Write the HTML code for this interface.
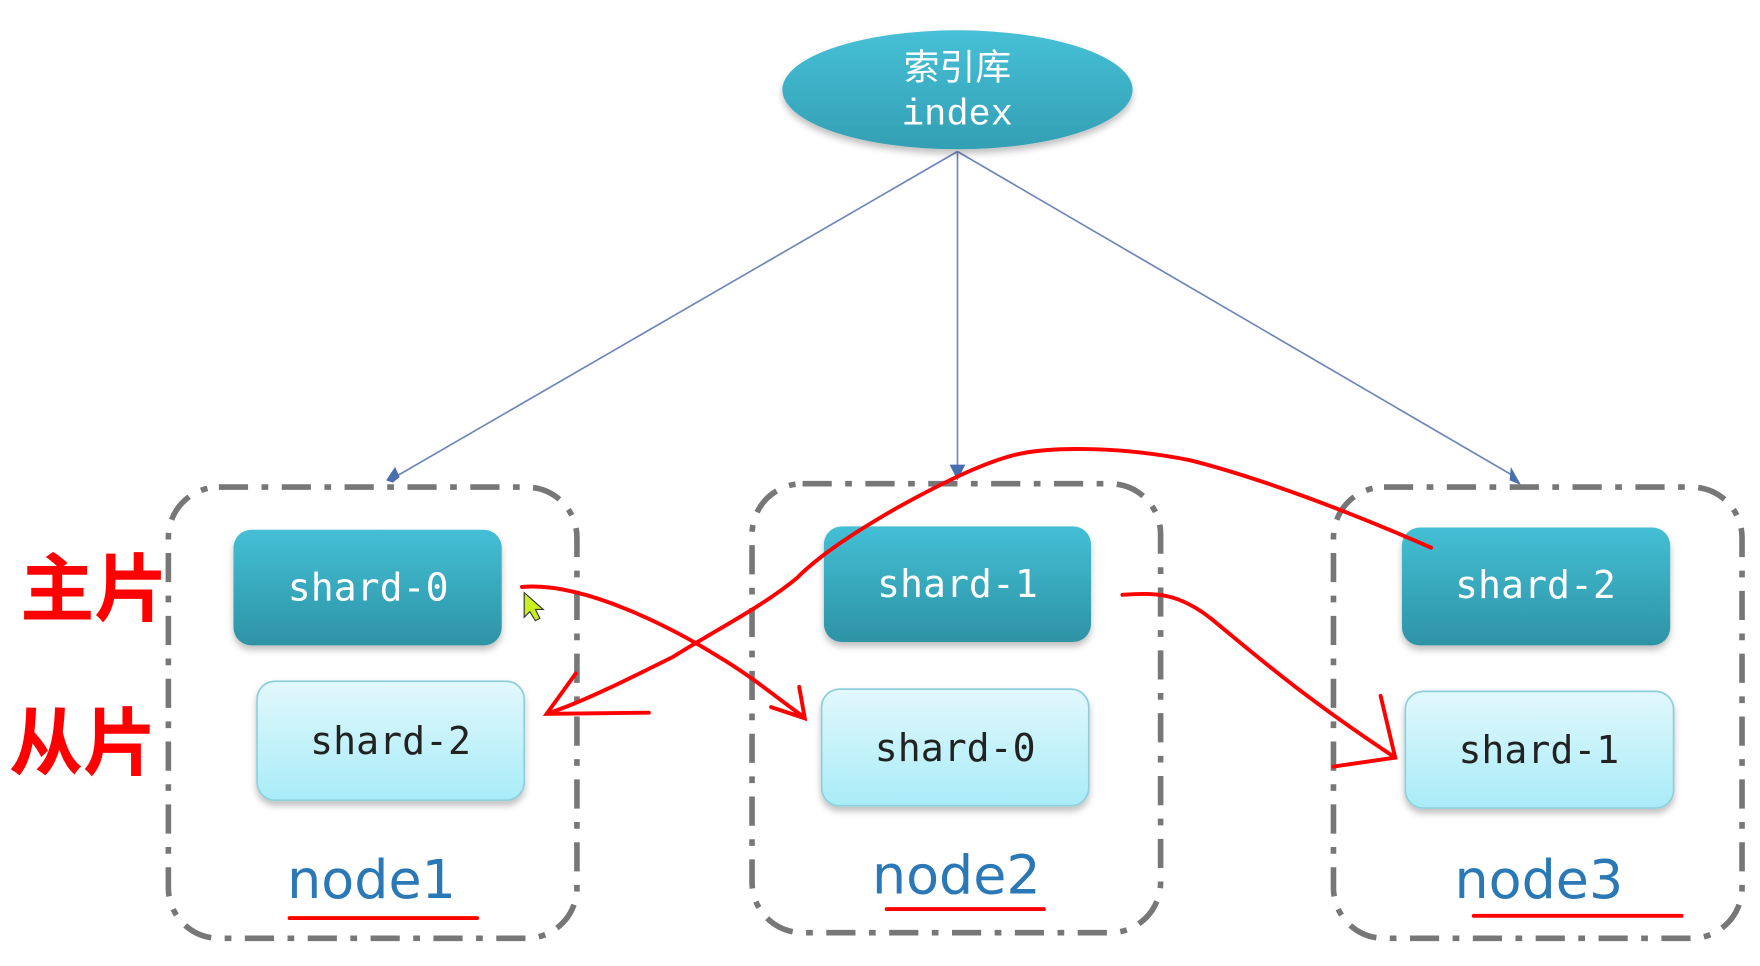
<!DOCTYPE html>
<html><head><meta charset="utf-8"><style>
html,body{margin:0;padding:0;background:#fff;}
svg{display:block;}
</style></head><body>
<svg width="1760" height="966" viewBox="0 0 1568 860.7" preserveAspectRatio="none" xmlns="http://www.w3.org/2000/svg">
<defs>
<linearGradient id="dk" x1="0" y1="0" x2="0" y2="1"><stop offset="0" stop-color="#44bfd5"/><stop offset="1" stop-color="#2d93a5"/></linearGradient>
<linearGradient id="lt" x1="0" y1="0" x2="0" y2="1"><stop offset="0" stop-color="#e2f8fc"/><stop offset="1" stop-color="#a8ecf8"/></linearGradient>
<linearGradient id="el" x1="0" y1="0" x2="0" y2="1"><stop offset="0" stop-color="#46c0d6"/><stop offset="1" stop-color="#339fb4"/></linearGradient>
<filter id="sh" x="-10%" y="-10%" width="120%" height="130%"><feDropShadow dx="0" dy="4" stdDeviation="3" flood-color="#000" flood-opacity="0.25"/></filter>
</defs>
<rect width="1568" height="861" fill="#fff"/>
<g stroke="#6f87b8" stroke-width="1.5" fill="none">
<line x1="853" y1="135" x2="352" y2="425"/>
<line x1="853" y1="135" x2="853" y2="420"/>
<line x1="853" y1="135" x2="1350" y2="425"/>
</g>
<g fill="#4a6fb0">
<polygon points="350,430 344,428 352,416 356,425"/>
<polygon points="853,428 846,414 860,414"/>
<polygon points="1355,432 1345,428 1346,416"/>
</g>
<ellipse cx="853" cy="80" rx="156" ry="53" fill="url(#el)" filter="url(#sh)"/>
<text x="853" y="71" text-anchor="middle" font-family="'Noto Sans CJK SC',sans-serif" font-size="32" fill="#fff">索引库</text>
<text x="853" y="111" text-anchor="middle" font-family="'Liberation Mono',monospace" font-size="33" fill="#fff">index</text>
<g fill="none" stroke="#777" stroke-width="5" stroke-dasharray="26,12,6,12">
<rect x="150" y="434" width="364" height="402" rx="45"/>
<rect x="670" y="431" width="364" height="400" rx="45"/>
<rect x="1188" y="434" width="364" height="402" rx="45"/>
</g>
<g filter="url(#sh)">
<rect x="208" y="472" width="239" height="103" rx="16" fill="url(#dk)"/>
<rect x="734" y="469" width="238" height="103" rx="16" fill="url(#dk)"/>
<rect x="1249" y="470" width="239" height="105" rx="16" fill="url(#dk)"/>
<rect x="229" y="607" width="238" height="106" rx="16" fill="url(#lt)" stroke="#8fcfdc" stroke-width="1.5"/>
<rect x="732" y="614" width="238" height="104" rx="16" fill="url(#lt)" stroke="#8fcfdc" stroke-width="1.5"/>
<rect x="1252" y="616" width="239" height="104" rx="16" fill="url(#lt)" stroke="#8fcfdc" stroke-width="1.5"/>
</g>
<g font-family="'DejaVu Sans Mono','Liberation Mono',monospace" font-size="34" text-anchor="middle">
<text x="328" y="535" fill="#fff">shard-0</text>
<text x="853" y="532" fill="#fff">shard-1</text>
<text x="1368" y="533" fill="#fff">shard-2</text>
<text x="348" y="672" fill="#222">shard-2</text>
<text x="851" y="678" fill="#222">shard-0</text>
<text x="1371" y="680" fill="#222">shard-1</text>
</g>
<g font-family="'DejaVu Sans','Liberation Sans',sans-serif" font-size="48" fill="#2a78b5" text-anchor="middle">
<text x="331" y="800">node1</text>
<text x="852" y="796">node2</text>
<text x="1371" y="800">node3</text>
</g>
<g stroke="#f00" stroke-width="3.5" fill="none" stroke-linecap="round">
<line x1="258" y1="818" x2="425" y2="818"/>
<line x1="790" y1="810" x2="930" y2="810"/>
<line x1="1313" y1="816" x2="1498" y2="816"/>
<path d="M465,523 C520,518 600,560 640,585 C670,603 690,620 715,638"/>
<path d="M712,612 L717,640 L687,630"/>
<path d="M1275,488 C1200,455 1120,425 1060,410 C1000,398 940,398 910,404 C880,410 840,430 800,452 C760,475 730,495 710,515 C680,540 640,560 600,585 C560,605 520,625 490,635"/>
<path d="M513,600 L487,636 L578,635"/>
<path d="M1000,530 C1030,528 1050,528 1080,552 C1120,585 1160,620 1243,675"/>
<path d="M1230,620 L1243,675 L1188,683"/>
</g>
<g font-family="'Noto Sans CJK SC','WenQuanYi Zen Hei',sans-serif" font-size="66" font-weight="bold" fill="#f00">
<text x="18" y="548">主片</text>
<text x="8" y="685">从片</text>
</g>
<polygon points="467,528 467,550 472,545 477,553 481,551 477,543 484,543" fill="#c8f020" stroke="#333" stroke-width="1"/>
</svg>
</body></html>
